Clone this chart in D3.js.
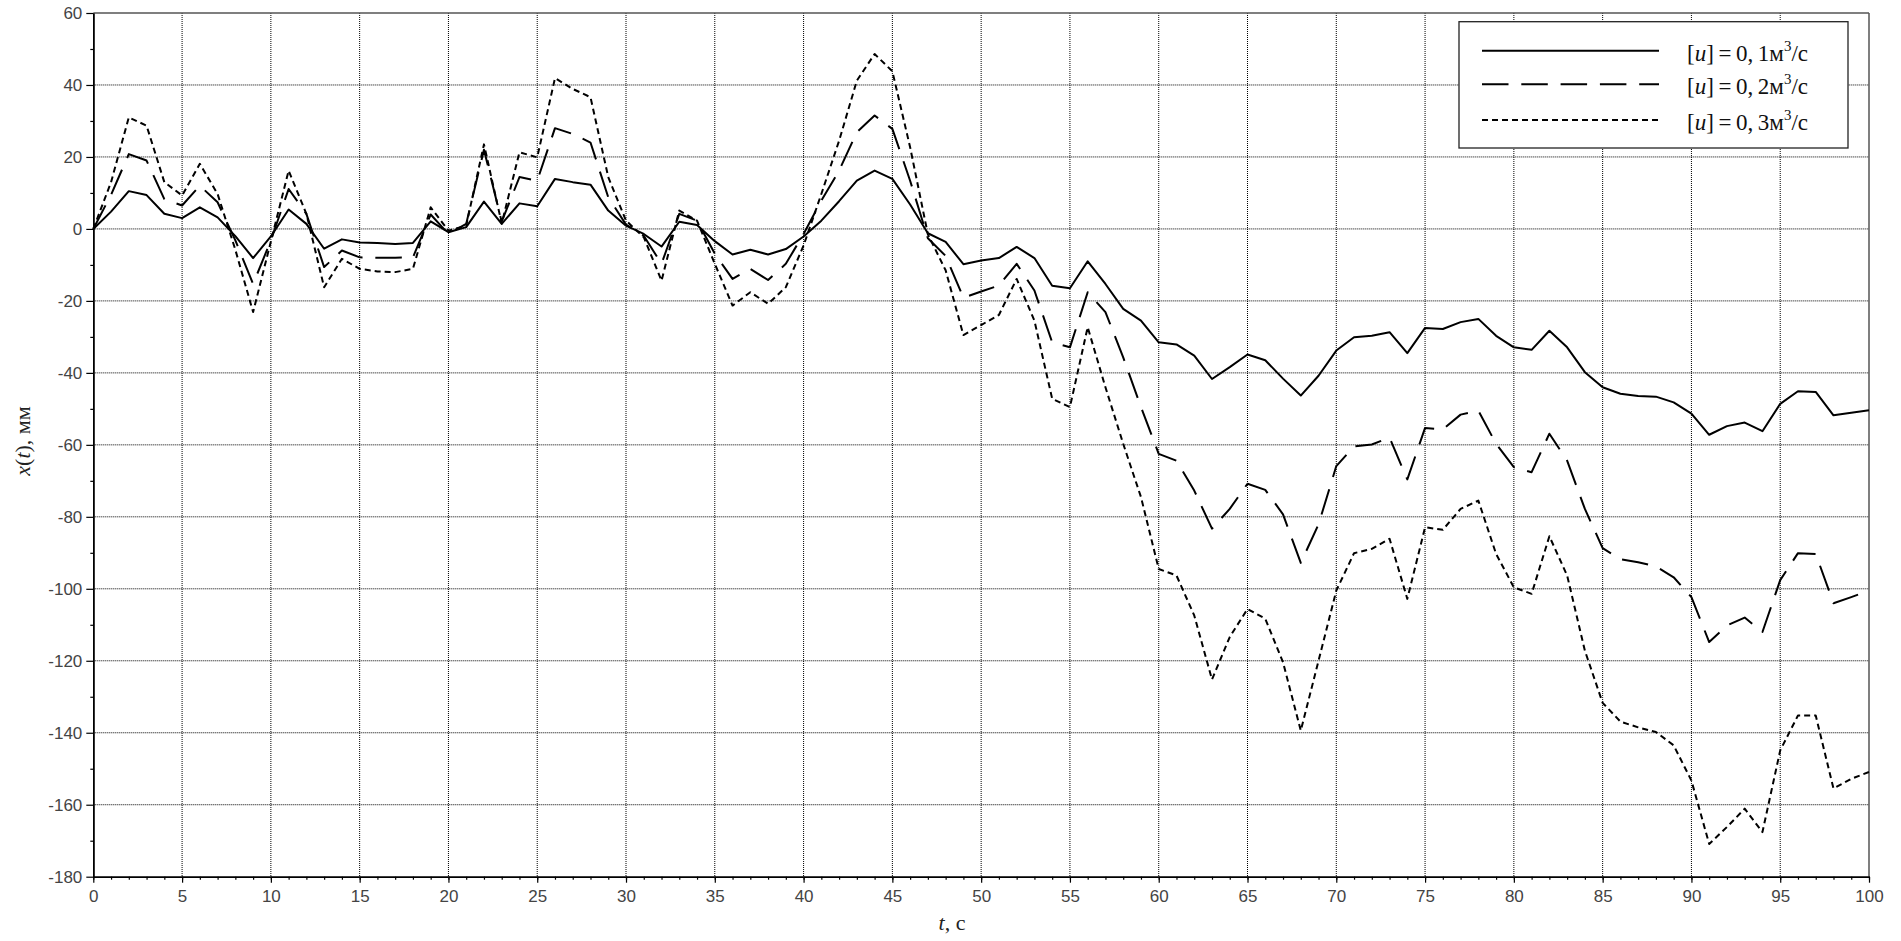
<!DOCTYPE html>
<html>
<head>
<meta charset="utf-8">
<script src="https://cdn.jsdelivr.net/npm/d3@7/dist/d3.min.js"></script>
<style>
  html, body { margin: 0; padding: 0; background: #fff; }
  svg { display: block; }
</style>
</head>
<body>
<svg id="chart" width="1901" height="941"></svg>
<script>
// ---------------- DATA ----------------
const times = [0,1,2,3,4,5,6,7,8,9,10,11,12,13,14,15,16,17,18,19,20,21,22,23,24,25,26,27,28,29,30,31,32,33,34,35,36,37,38,39,40,41,42,43,44,45,46,47,48,49,50,51,52,53,54,55,56,57,58,59,60,61,62,63,64,65,66,67,68,69,70,71,72,73,74,75,76,77,78,79,80,81,82,83,84,85,86,87,88,89,90,91,92,93,94,95,96,97,98,99,100];

const series1 = [0,4.8,10.5,9.4,4.2,3.0,6.0,3.2,-2.0,-8.1,-2.1,5.4,1.4,-5.5,-2.9,-3.8,-3.9,-4.2,-3.9,2.1,-0.9,0.5,7.6,1.4,7.1,6.3,13.9,13.0,12.3,5.1,0.9,-1.4,-4.9,2.0,1.1,-3.4,-7.1,-5.8,-7.1,-5.6,-2.1,2.3,7.7,13.4,16.2,13.9,6.8,-1.2,-3.6,-9.8,-8.8,-8.1,-5.0,-8.1,-15.8,-16.5,-9.0,-15.3,-22.2,-25.5,-31.5,-32.1,-35.2,-41.7,-38.4,-34.9,-36.5,-41.6,-46.3,-40.8,-33.8,-30.1,-29.7,-28.7,-34.5,-27.5,-27.8,-25.9,-25.0,-29.7,-32.9,-33.6,-28.3,-32.9,-39.8,-44.0,-45.8,-46.4,-46.6,-48.2,-51.3,-57.2,-54.8,-53.8,-56.2,-48.6,-45.1,-45.3,-51.8,-51.1,-50.4];

const series2 = [0,9.5,20.8,19.0,8.3,6.5,12.0,7.4,-3.2,-15.3,-3.2,11.1,4.2,-10.6,-6.0,-7.9,-8.0,-8.0,-7.9,4.0,-1.4,1.4,22.0,2.0,14.4,13.4,28.0,26.4,24.0,8.8,1.2,-1.9,-9.7,4.2,2.3,-6.9,-13.9,-11.1,-14.2,-9.7,-1.4,7.9,16.2,26.9,31.5,27.8,13.4,-2.6,-7.5,-19.1,-17.4,-15.7,-9.7,-17.1,-31.5,-32.9,-17.6,-23.1,-35.7,-49.5,-62.5,-64.4,-72.7,-83.3,-77.8,-70.8,-72.5,-79.3,-92.8,-82.1,-65.9,-60.4,-59.9,-58.0,-69.6,-55.3,-55.7,-51.6,-50.5,-59.7,-66.2,-67.6,-56.9,-64.4,-77.8,-88.7,-91.8,-92.6,-93.8,-96.8,-102.3,-114.8,-110.2,-108.0,-112.0,-97.6,-90.1,-90.3,-104.0,-102.3,-100.5];

const series3 = [0,13.0,31.0,28.7,13.0,9.3,18.1,9.7,-5.8,-23.1,-3.5,16.2,4.2,-16.2,-8.3,-11.1,-11.8,-12.0,-11.1,6.0,-0.5,0.9,23.5,1.5,21.3,19.9,41.9,38.9,36.6,14.4,2.3,-2.3,-14.4,5.1,2.3,-9.7,-21.3,-17.6,-20.8,-16.2,-4.6,9.7,24.5,41.2,48.6,43.8,22.7,-1.5,-11.5,-29.5,-26.7,-23.9,-13.9,-25.5,-47.2,-49.5,-27.3,-44.0,-59.7,-74.5,-94.5,-96.3,-107.4,-125.2,-113.4,-105.6,-108.3,-120.4,-139.4,-120.0,-100.5,-90.1,-88.9,-86.1,-102.8,-82.9,-83.6,-77.8,-75.5,-90.3,-99.6,-101.4,-85.4,-96.3,-117.2,-131.7,-136.9,-138.5,-139.8,-143.5,-153.3,-170.9,-166.2,-161.1,-167.6,-144.9,-135.2,-135.2,-155.5,-152.8,-150.9];

const legendValues = ["1", "2", "3"];
const xMajorTicks = [0,5,10,15,20,25,30,35,40,45,50,55,60,65,70,75,80,85,90,95,100];
const yMajorTicks = [-180,-160,-140,-120,-100,-80,-60,-40,-20,0,20,40,60];
const yMinorTicks = [-170,-150,-130,-110,-90,-70,-50,-30,-10,10,30,50];

// ---------------- LAYOUT ----------------
const svg = d3.select("#chart");
const L = 93.3, R = 1869, T = 13, B = 876.7;
const x = d3.scaleLinear().domain([0, 100]).range([L, R]);
const y = d3.scaleLinear().domain([-180, 60]).range([B, T]);

const tickFont = "'Liberation Sans', Arial, sans-serif";
const serif = "'Liberation Serif', 'Times New Roman', serif";

// grid
const grid = svg.append("g").attr("class", "grid");
grid.selectAll("line.vx").data(xMajorTicks.filter(d => d > 0 && d < 100)).join("line")
  .attr("x1", d => x(d)).attr("x2", d => x(d)).attr("y1", T).attr("y2", B)
  .attr("stroke", "#000").attr("stroke-width", 1).attr("stroke-dasharray", "1,1");
grid.selectAll("line.hy").data(yMajorTicks.filter(d => d > -180 && d < 60)).join("line")
  .attr("x1", L).attr("x2", R).attr("y1", d => y(d)).attr("y2", d => y(d))
  .attr("stroke", "#000").attr("stroke-width", 1).attr("stroke-dasharray", "1,1");

// frame (top and right)
svg.append("line").attr("x1", L).attr("x2", R).attr("y1", T).attr("y2", T)
  .attr("stroke", "#555").attr("stroke-width", 1.5);
svg.append("line").attr("x1", R).attr("x2", R).attr("y1", T).attr("y2", B)
  .attr("stroke", "#555").attr("stroke-width", 1.5);

// axes
function styleAxis(g) {
  g.select(".domain").attr("stroke", "#000").attr("stroke-width", 1.5);
  g.selectAll(".tick line").attr("stroke", "#000").attr("stroke-width", 1.2);
  g.selectAll(".tick text").attr("fill", "#444").style("font-family", tickFont).style("font-size", "17px");
}
const xMinor = svg.append("g").attr("transform", `translate(0,${B})`)
  .call(d3.axisBottom(x).tickValues(times).tickSize(3).tickFormat("").tickSizeOuter(0));
styleAxis(xMinor);
const xAxis = svg.append("g").attr("transform", `translate(0,${B})`)
  .call(d3.axisBottom(x).tickValues(xMajorTicks).tickSize(6).tickPadding(7).tickFormat(d3.format("d")).tickSizeOuter(0));
styleAxis(xAxis);

const yMinor = svg.append("g").attr("transform", `translate(${L},0)`)
  .call(d3.axisLeft(y).tickValues(yMinorTicks).tickSize(3).tickFormat("").tickSizeOuter(0));
styleAxis(yMinor);
const yAxis = svg.append("g").attr("transform", `translate(${L},0)`)
  .call(d3.axisLeft(y).tickValues(yMajorTicks).tickSize(7).tickPadding(4).tickFormat(d => String(d)).tickSizeOuter(0));
styleAxis(yAxis);

// series
const styles = [
  { data: series1, dash: null },
  { data: series2, dash: "26.5,12.8" },
  { data: series3, dash: "6,4" }
];
const line = d3.line().x((d, i) => x(times[i])).y(d => y(d));
styles.forEach(s => {
  svg.append("path").datum(s.data)
    .attr("d", line)
    .attr("fill", "none")
    .attr("stroke", "#000")
    .attr("stroke-width", 2)
    .attr("stroke-linejoin", "round")
    .attr("stroke-dasharray", s.dash);
});

// legend
const lg = svg.append("g");
lg.append("rect").attr("x", 1459).attr("y", 21.7).attr("width", 389).attr("height", 126.3)
  .attr("fill", "#fff").attr("stroke", "#222").attr("stroke-width", 1.3);
const legendY = [50.7, 84.3, 120];
legendValues.forEach((v, i) => {
  lg.append("line").attr("x1", 1482).attr("x2", 1659).attr("y1", legendY[i]).attr("y2", legendY[i])
    .attr("stroke", "#000").attr("stroke-width", 2).attr("stroke-dasharray", styles[i].dash);
  const t = lg.append("text").attr("x", 1687).attr("y", legendY[i] + 10)
    .style("font-family", serif).style("font-size", "23px").attr("fill", "#111");
  t.append("tspan").text("[");
  t.append("tspan").style("font-style", "italic").text("u");
  t.append("tspan").text("]\u2009=\u20090,\u2009" + v + "м");
  t.append("tspan").attr("dy", -10).style("font-size", "15px").text("3");
  t.append("tspan").attr("dy", 10).text("/с");
});

// axis titles
const xt = svg.append("text").attr("x", 952).attr("y", 930).attr("text-anchor", "middle")
  .style("font-family", serif).style("font-size", "22px").attr("fill", "#222");
xt.append("tspan").style("font-style", "italic").text("t");
xt.append("tspan").text(", с");

const yt = svg.append("text").attr("transform", "translate(30,441) rotate(-90)").attr("text-anchor", "middle")
  .style("font-family", serif).style("font-size", "22px").attr("fill", "#222");
yt.append("tspan").style("font-style", "italic").text("x");
yt.append("tspan").text("(");
yt.append("tspan").style("font-style", "italic").text("t");
yt.append("tspan").text("), мм");
</script>
</body>
</html>
